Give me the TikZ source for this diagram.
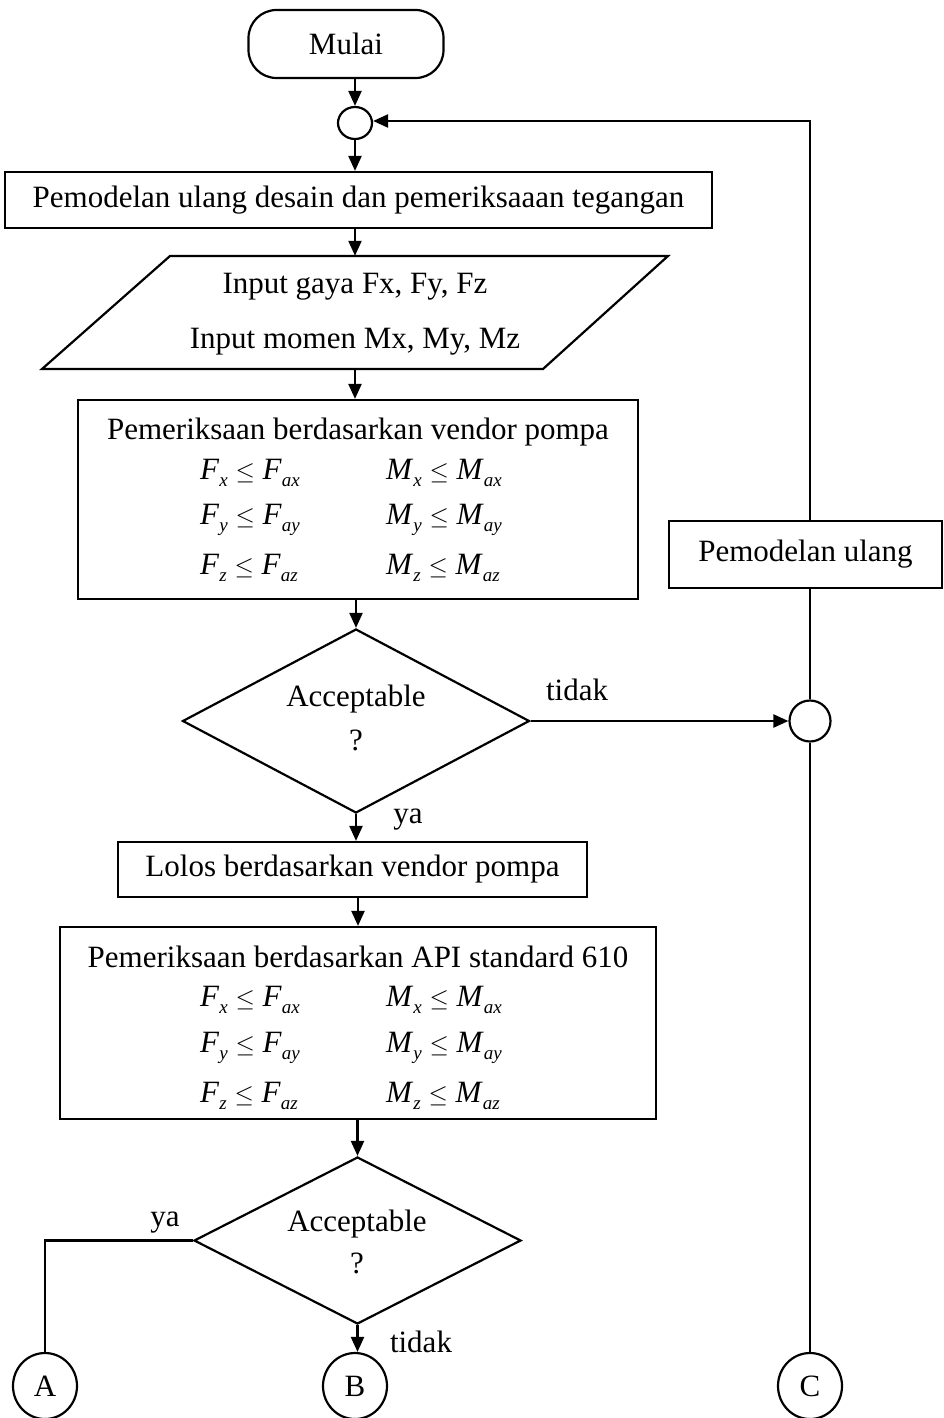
\documentclass[tikz,border=0pt]{standalone}
\usepackage{fontspec}
\setmainfont{Liberation Serif}
\usetikzlibrary{arrows.meta,shapes.geometric}
\newcommand{\vr}[2]{\textit{#1}\raisebox{-0.45ex}{\fontsize{19}{19}\selectfont\textit{#2}}}
\begin{document}
\begin{tikzpicture}[x=1pt,y=-1pt,
  every node/.style={font=\fontsize{31}{36}\selectfont},
  ln/.style={line width=2.2pt},
  arr/.style={ln,-{Triangle[length=15pt,width=13pt]}},
  boxs/.style={draw,ln,rectangle,inner sep=0pt},
  conn/.style={draw,ln,ellipse,inner sep=0pt},
  dec/.style={draw,ln,diamond,inner sep=0pt},
  lbl/.style={inner sep=0pt}]
\useasboundingbox (0,0) rectangle (943,1418);
% nodes
\node[boxs,rounded corners=28pt,minimum width=195pt,minimum height=68pt] (mulai) at (346,44) {Mulai};
\node[conn,minimum width=34pt,minimum height=32pt] (c1) at (355,123) {};
\node[boxs,minimum width=707pt,minimum height=56pt] (b1) at (358.5,200) {Pemodelan ulang desain dan pemeriksaaan tegangan};
% parallelogram
\draw[ln] (170,256) -- (668,256) -- (543,369) -- (42,369) -- cycle;
\node[lbl,minimum width=300pt,minimum height=113pt] (para) at (355,312.5) {};
\node[lbl] (p1) at (355,287) {Input gaya Fx, Fy, Fz};
\node[lbl] (p2) at (355,342) {Input momen Mx, My, Mz};
% box 2
\node[boxs,minimum width=560pt,minimum height=199pt] (b2) at (358,499.5) {};
\node[lbl] (b2t) at (358,432) {Pemeriksaan berdasarkan vendor pompa};
\node[lbl,anchor=west] (b2f1) at (200,473) {\vr{F}{x} $\le$ \vr{F}{ax}};
\node[lbl,anchor=west] (b2m1) at (386,473) {\vr{M}{x} $\le$ \vr{M}{ax}};
\node[lbl,anchor=west] (b2f2) at (200,520) {\vr{F}{y} $\le$ \vr{F}{ay}};
\node[lbl,anchor=west] (b2m2) at (386,520) {\vr{M}{y} $\le$ \vr{M}{ay}};
\node[lbl,anchor=west] (b2f3) at (200,568) {\vr{F}{z} $\le$ \vr{F}{az}};
\node[lbl,anchor=west] (b2m3) at (386,568) {\vr{M}{z} $\le$ \vr{M}{az}};
% decision 1
\node[dec,minimum width=347pt,minimum height=184pt] (d1) at (356,721) {};
\node[lbl] (d1a) at (356,699) {Acceptable};
\node[lbl] (d1b) at (356,740) {?};
\node[lbl] (tidak1) at (577,690) {tidak};
\node[lbl] (ya1) at (408,820) {ya};
\node[conn,minimum width=41pt,minimum height=41pt] (c2) at (810,721) {};
% lolos
\node[boxs,minimum width=469pt,minimum height=55pt] (lolos) at (352.5,869.5) {Lolos berdasarkan vendor pompa};
% box 3
\node[boxs,minimum width=596pt,minimum height=192pt] (b3) at (358,1023) {};
\node[lbl] (b3t) at (358,957) {Pemeriksaan berdasarkan API standard 610};
\node[lbl,anchor=west] (b3f1) at (200,1000) {\vr{F}{x} $\le$ \vr{F}{ax}};
\node[lbl,anchor=west] (b3m1) at (386,1000) {\vr{M}{x} $\le$ \vr{M}{ax}};
\node[lbl,anchor=west] (b3f2) at (200,1048) {\vr{F}{y} $\le$ \vr{F}{ay}};
\node[lbl,anchor=west] (b3m2) at (386,1048) {\vr{M}{y} $\le$ \vr{M}{ay}};
\node[lbl,anchor=west] (b3f3) at (200,1096) {\vr{F}{z} $\le$ \vr{F}{az}};
\node[lbl,anchor=west] (b3m3) at (386,1096) {\vr{M}{z} $\le$ \vr{M}{az}};
% decision 2
\node[dec,minimum width=327pt,minimum height=167pt] (d2) at (357.5,1240.5) {};
\node[lbl] (d2a) at (357,1224) {Acceptable};
\node[lbl] (d2b) at (357,1263) {?};
\node[lbl] (ya2) at (165,1223) {ya};
\node[lbl] (tidak2) at (421,1342) {tidak};
% connectors
\node[conn,minimum width=64pt,minimum height=66pt] (A) at (45,1386) {A};
\node[conn,minimum width=64pt,minimum height=66pt] (B) at (355,1386) {B};
\node[conn,minimum width=64pt,minimum height=66pt] (C) at (810,1386) {C};
% Pemodelan ulang
\node[boxs,minimum width=273pt,minimum height=67pt] (pm) at (805.5,554.5) {Pemodelan ulang};
\coordinate (corner) at (810,121);
% edges
\draw[arr] (mulai.south -| c1) -- (c1.north);
\draw[arr] (c1.south) -- (c1.south |- b1.north);
\draw[arr] (b1.south -| para) -- (para.north);
\draw[arr] (para.south) -- (para.south |- b2.north);
\draw[arr] (b2.south -| d1) -- (d1.north);
\draw[arr] (d1.east) -- (c2.west);
\draw[arr] (d1.south) -- (d1.south |- lolos.north);
\draw[arr] (lolos.south -| b3) -- (b3.north);
\draw[arr] (b3.south -| d2) -- (d2.north);
\draw[arr] (d2.south) -- (d2.south |- B.north);
\draw[ln] (d2.west) -| (A.north);
\draw[ln] (C.north) -- (c2.south);
\draw[ln] (c2.north) -- (c2.north |- pm.south);
\draw[arr] (corner |- pm.north) -- (corner) -- (c1.east |- corner);
\end{tikzpicture}
\end{document}
